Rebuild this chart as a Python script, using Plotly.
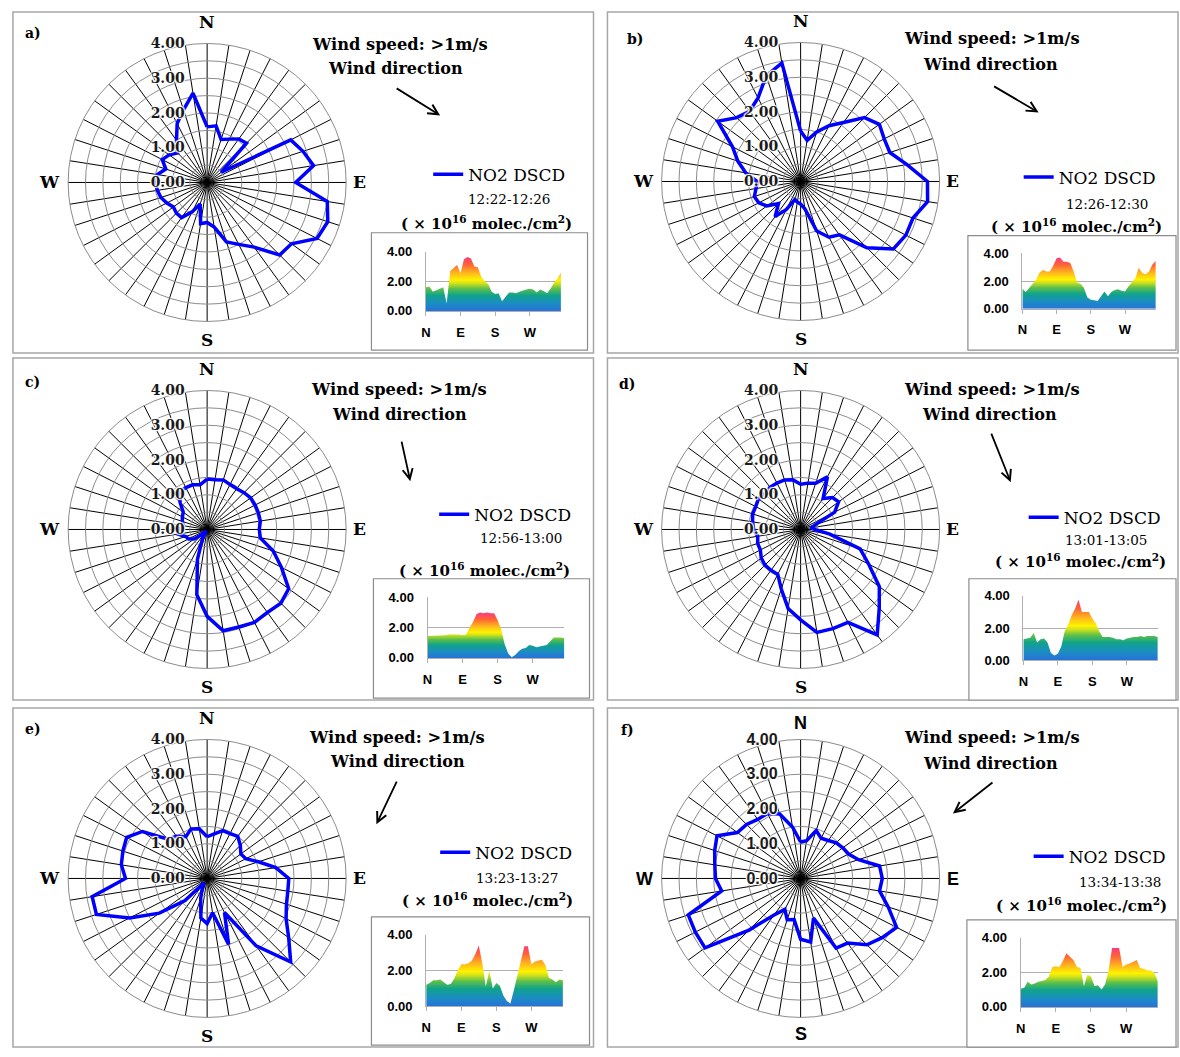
import plotly.graph_objects as go

W, H = 1180, 1057

# ---------------- data ----------------
directions = list(range(0, 360, 9))          # 40 wind sectors, clockwise from North
compass_vals = [0, 90, 180, 270]
compass_text = ["N", "E", "S", "W"]

no2_a = [1.6, 1.65, 1.3, 1.4, 1.55, 1.6, 0.5, 2.7, 2.9, 3.1,
         2.55, 3.5, 3.65, 3.55, 3.0, 2.95, 2.3, 2.0, 1.8, 1.3,
         1.15, 1.2, 0.65, 0.95, 1.25, 1.25, 1.2, 1.3, 1.4, 1.45,
         1.5, 1.45, 1.25, 1.45, 1.35, 1.2, 1.5, 1.9, 2.2, 2.6]
no2_b = [1.45, 1.2, 1.5, 1.8, 2.1, 2.6, 2.8, 2.7, 2.7, 3.1,
         3.65, 3.7, 3.4, 3.4, 3.3, 2.7, 1.9, 1.8, 1.5, 0.8,
         0.65, 0.6, 0.55, 0.9, 1.25, 0.9, 1.2, 1.35, 1.4, 1.3,
         1.25, 1.6, 1.9, 2.2, 2.95, 2.6, 2.5, 2.7, 3.2, 3.45]
no2_c = [1.45, 1.45, 1.5, 1.45, 1.45, 1.5, 1.55, 1.55, 1.55, 1.55,
         1.5, 1.55, 2.0, 2.4, 2.9, 3.0, 2.95, 3.0, 2.95, 2.95,
         2.5, 1.9, 0.9, 0.3, 0.05, 0.2, 0.45, 0.6, 0.65, 0.85,
         0.8, 0.7, 0.75, 0.8, 0.85, 1.1, 1.35, 1.35, 1.35, 1.3]
no2_d = [1.3, 1.35, 1.4, 1.7, 1.1, 1.3, 1.35, 1.1, 0.45, 0.3,
         0.4, 0.85, 1.8, 2.2, 2.8, 3.2, 3.75, 3.0, 3.0, 3.0,
         2.6, 2.3, 1.8, 1.45, 1.45, 1.45, 1.4, 1.3, 1.3, 1.25,
         1.35, 1.4, 1.45, 1.45, 1.5, 1.45, 1.5, 1.5, 1.5, 1.45]
no2_e = [1.2, 1.3, 1.45, 1.45, 1.5, 1.35, 1.2, 1.25, 1.55, 2.0,
         2.35, 2.35, 2.4, 2.55, 2.9, 3.4, 2.4, 1.1, 2.0, 1.0,
         1.3, 1.15, 0.6, 0.3, 0.15, 0.9, 1.7, 2.5, 3.35, 3.35,
         2.35, 2.5, 2.55, 2.6, 2.3, 1.6, 1.5, 1.35, 1.5, 1.45]
no2_f = [1.05, 1.1, 1.45, 1.3, 1.35, 1.45, 1.5, 1.55, 1.75, 2.3,
         2.35, 2.3, 2.65, 3.1, 2.9, 2.7, 2.3, 2.25, 1.2, 1.85,
         1.75, 1.2, 1.25, 1.0, 1.3, 2.1, 3.4, 3.4, 3.4, 2.3,
         2.45, 2.5, 2.6, 2.7, 2.25, 2.2, 2.1, 2.1, 1.95, 1.5]

series = [no2_a, no2_b, no2_c, no2_d, no2_e, no2_f]
panel_letters = ["a)", "b)", "c)", "d)", "e)", "f)"]
time_ranges = ["12:22-12:26", "12:26-12:30", "12:56-13:00",
               "13:01-13:05", "13:23-13:27", "13:34-13:38"]
series_name = "NO2 DSCD"
radial_ticks = [0, 0.5, 1, 1.5, 2, 2.5, 3, 3.5, 4]
radial_text = ["0.00", "", "1.00", "", "2.00", "", "3.00", "", "4.00"]
inset_ticks = [0, 2, 4]

# ---------------- layout geometry (pixels) ----------------
geo = [
    dict(frame=(8, 5, 591, 351), center=(203, 178), label=(28, 26), ws=(397, 38), wd=(392, 62),
         arrow=((392, 82), (437, 110)), leg=(430, 170), time=(506, 195), unit=(484, 219),
         ibox=(368, 229, 585, 348), iplot=(422.7, 248.3, 558.3, 308.3)),
    dict(frame=(605, 5, 1178, 351), center=(799, 177), label=(633, 32), ws=(991, 32), wd=(990, 58),
         arrow=((992, 80), (1038, 107)), leg=(1023, 173), time=(1107, 200), unit=(1076, 222),
         ibox=(967, 232, 1176, 348), iplot=(1021.7, 250, 1155.7, 306)),
    dict(frame=(8, 356, 591, 703), center=(203, 530), label=(28, 380), ws=(396, 388), wd=(396, 413),
         arrow=((398, 440), (407, 481)), leg=(436, 515), time=(518, 539), unit=(482, 571),
         ibox=(370, 580, 587, 701), iplot=(424.3, 599, 561.7, 660.3)),
    dict(frame=(605, 356, 1178, 703), center=(799, 530), label=(625, 382), ws=(991, 388), wd=(989, 413),
         arrow=((990, 432), (1010, 482)), leg=(1028, 518), time=(1106, 541), unit=(1080, 562),
         ibox=(968, 580, 1176, 703), iplot=(1022.7, 597.3, 1157.7, 662.7)),
    dict(frame=(8, 711, 591, 1055), center=(203, 884), label=(28, 732), ws=(394, 741), wd=(394, 765),
         arrow=((394, 785), (373, 829)), leg=(437, 858), time=(514, 884), unit=(485, 906),
         ibox=(368, 923, 587, 1053), iplot=(423, 941, 560.3, 1013.7)),
    dict(frame=(605, 711, 1178, 1055), center=(799, 884), label=(625, 733), ws=(991, 741), wd=(990, 767),
         arrow=((993, 786), (952, 818)), leg=(1033, 862), time=(1120, 888), unit=(1081, 911),
         ibox=(966, 926, 1176, 1055), iplot=(1020, 944, 1157.7, 1014.3)),
]
R = 141
# compass letter offsets from the rose centre (N, E, S, W)
compass_off = [(0, -163), (153, 0), (0, 160), (-158, 0)]
compass_off_f = [(0, -158), (153, 1), (0, 158), (-157, 1)]

SERIF = "DejaVu Serif"
SANS = "Liberation Sans"
RAINBOW = [[0.0, "#2a6edc"], [0.15, "#1b8cc4"], [0.3, "#10a38b"], [0.42, "#5cbf4a"],
           [0.52, "#d2e21c"], [0.58, "#fff200"], [0.72, "#ffb020"], [0.86, "#ff6436"],
           [1.0, "#ff3a7a"]]

# check whether polar radial axes accept ticklabelstep (labels only every 2nd ring)
try:
    go.layout.polar.RadialAxis(ticklabelstep=2)
    USE_STEP = True
except Exception:
    USE_STEP = False


def px(x):
    return x / W


def py(y):
    return 1 - y / H


fig = go.Figure()
annotations = []
shapes = []
layout = {}


def txt(pos, text, size, bold=True, family=SERIF):
    annotations.append(dict(x=px(pos[0]), y=py(pos[1]), xref="paper", yref="paper",
                            text=text, showarrow=False, xanchor="center", yanchor="middle",
                            font=dict(family=family, size=size, color="black",
                                      weight="bold" if bold else "normal")))


for k, (vals, g) in enumerate(zip(series, geo)):
    sfx = "" if k == 0 else str(k + 1)
    pname, xname, yname, lname = "polar" + sfx, "x" + sfx, "y" + sfx, "legend" + sfx
    lab_font = SANS if k == 5 else SERIF
    lab_size = 18 if k == 5 else 17
    tick_size = 16 if k == 5 else 14

    # radar
    fig.add_trace(go.Scatterpolar(
        r=vals + vals[:1], theta=directions + directions[:1], mode="lines",
        line=dict(color="#0000ff", width=3.5), name=series_name,
        subplot=pname, legend=lname, showlegend=True, hoverinfo="skip"))

    # inset area chart
    fig.add_trace(go.Scatter(
        x=directions, y=vals, mode="lines", line=dict(width=0),
        fill="tozeroy",
        fillgradient=dict(type="vertical", colorscale=RAINBOW, start=0, stop=max(vals)),
        xaxis=xname, yaxis=yname, showlegend=False, hoverinfo="skip"))

    if USE_STEP:
        rticks = dict(tickmode="linear", tick0=0, dtick=0.5, tickformat=".2f", ticklabelstep=2)
    else:
        rticks = dict(tickmode="array", tickvals=radial_ticks, ticktext=radial_text)

    cx, cy = g["center"]
    layout[pname] = dict(
        domain=dict(x=[px(cx - R), px(cx + R)], y=[py(cy + R), py(cy - R)]),
        bgcolor="white",
        radialaxis=dict(range=[0, 4], **rticks,
                        angle=90, tickangle=90, side="counterclockwise", showline=False,
                        gridcolor="#8c8c8c", gridwidth=1,
                        ticks="outside", ticklen=17, tickcolor="rgba(0,0,0,0)",
                        tickfont=dict(family=lab_font, size=tick_size, color="#1a1a1a",
                                      weight="bold", shadow="auto"),
                        layer="above traces"),
        angularaxis=dict(direction="clockwise", rotation=90, type="linear", thetaunit="degrees",
                         tickmode="array", tickvals=directions, showticklabels=False,
                         gridcolor="black", gridwidth=1, showline=True,
                         linecolor="#8c8c8c", linewidth=1, ticks=""),
    )
    offs = compass_off_f if k == 5 else compass_off
    for lab, (ox, oy) in zip(compass_text, offs):
        txt((cx + ox, cy + oy), lab, lab_size, family=lab_font)

    x0, y4, x1, y0 = g["iplot"]
    layout["xaxis" + sfx] = dict(
        domain=[px(x0), px(x1)], anchor=yname, range=[0, directions[-1]],
        tickmode="array", tickvals=compass_vals, ticktext=compass_text,
        showline=True, linecolor="#b0b0b0", linewidth=1, ticks="outside", ticklen=4,
        tickcolor="#b0b0b0", showgrid=False, zeroline=False, ticklabelstandoff=5,
        tickfont=dict(family=SANS, size=13, color="black", weight="bold"), fixedrange=True)
    layout["yaxis" + sfx] = dict(
        domain=[py(y0), py(y4)], anchor=xname, range=[0, 4],
        tickmode="array", tickvals=inset_ticks, tickformat=".2f",
        showgrid=True, gridcolor="#b0b0b0", gridwidth=1, showline=True, linecolor="#b0b0b0",
        zeroline=False, ticks="", ticklabelstandoff=10,
        tickfont=dict(family=SANS, size=13, color="black", weight="bold"), fixedrange=True)

    lx, ly = g["leg"]
    layout[lname] = dict(x=px(lx - 5), y=py(ly), xanchor="left", yanchor="middle",
                         bgcolor="rgba(0,0,0,0)", borderwidth=0, itemwidth=30,
                         font=dict(family=SERIF, size=17, color="black"))

    # frames
    fx0, fy0, fx1, fy1 = g["frame"]
    shapes.append(dict(type="rect", xref="paper", yref="paper", x0=px(fx0), x1=px(fx1),
                       y0=py(fy1), y1=py(fy0), line=dict(color="#a6a6a6", width=1.5), layer="below"))
    bx0, by0, bx1, by1 = g["ibox"]
    shapes.append(dict(type="rect", xref="paper", yref="paper", x0=px(bx0), x1=px(bx1),
                       y0=py(by1), y1=py(by0), line=dict(color="#8c8c8c", width=1.2),
                       fillcolor="white", layer="below"))

    txt(g["label"], panel_letters[k], 14)
    txt(g["ws"], "Wind speed: &gt;1m/s", 16.3)
    txt(g["wd"], "Wind direction", 16)
    txt(g["time"], time_ranges[k], 13.5, bold=False)
    txt(g["unit"], "( × 10<sup>16</sup> molec./cm<sup>2</sup>)", 15)

    (tx, ty), (hx, hy) = g["arrow"]
    annotations.append(dict(x=px(hx), y=py(hy), xref="paper", yref="paper", text="",
                            showarrow=True, ax=tx - hx, ay=ty - hy, axref="pixel", ayref="pixel",
                            arrowhead=5, arrowsize=1.1, arrowwidth=1.8, arrowcolor="black"))

fig.update_layout(
    width=W, height=H, margin=dict(l=0, r=0, t=0, b=0),
    paper_bgcolor="white", plot_bgcolor="white",
    annotations=annotations, shapes=shapes, **layout)

fig.write_html("out.html", config={"displayModeBar": False},
               post_script="document.body.style.margin='0';document.body.style.overflow='hidden';")
